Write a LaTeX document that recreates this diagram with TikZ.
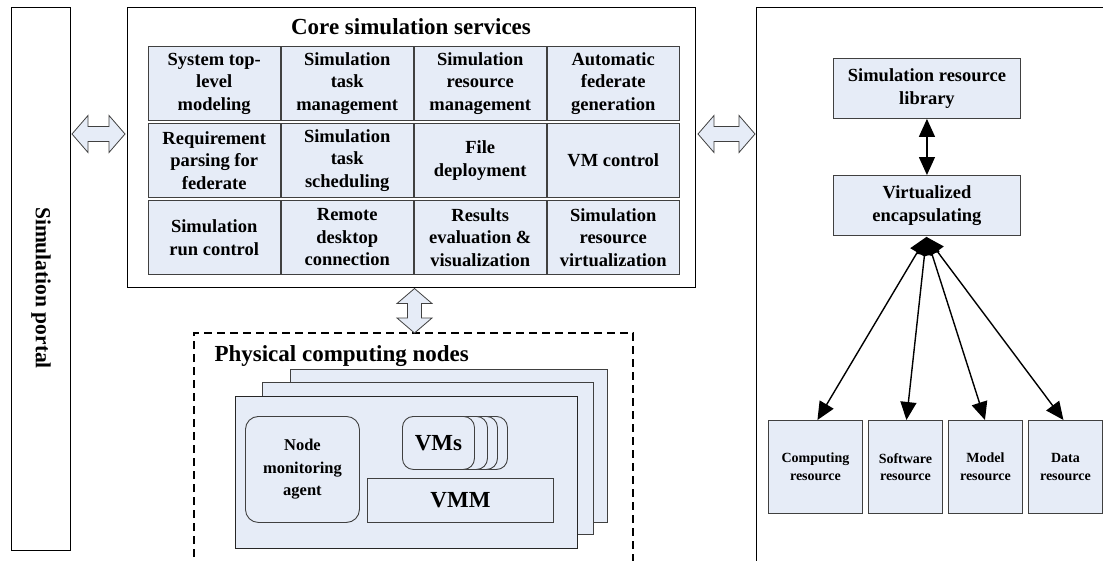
\documentclass[tikz,border=0pt]{standalone}
\usepackage{fontspec}
\setmainfont{Liberation Serif}
\usetikzlibrary{arrows.meta,calc}
\definecolor{boxfill}{RGB}{230,236,247}
\definecolor{boxline}{RGB}{64,64,64}
\newcommand{\cellfont}{\fontsize{18.5}{22.5}\selectfont\bfseries}
\newcommand{\hblockarrow}[2]{%
  \draw[barrow] (#1) -- ++(16,-18.5) -- ++(0,11) -- ($(#2)+(-16,-7.5)$) -- ++(0,-11) -- (#2)
    -- ++(-16,18.5) -- ++(0,-11) -- ($(#1)+(16,7.5)$) -- ++(0,11) -- cycle;}
\newcommand{\vblockarrow}[2]{%
  \draw[barrow] (#1) -- ++(-17.5,15) -- ++(10.5,0) -- ($(#2)+(-7,-15)$) -- ++(-10.5,0) -- (#2)
    -- ++(17.5,-15) -- ++(-10.5,0) -- ($(#1)+(7,15)$) -- ++(10.5,0) -- cycle;}
\begin{document}
\begin{tikzpicture}[x=1pt,y=-1pt,
  cell/.style={draw=boxline, line width=0.9pt, fill=boxfill, minimum width=131.5pt, minimum height=74pt,
    anchor=north west, align=center, inner sep=0pt, font=\cellfont},
  resbox/.style={draw=boxline, line width=0.9pt, fill=boxfill, anchor=north west, align=center, inner sep=0pt},
  frame/.style={draw=black, line width=1.3pt, anchor=north west, inner sep=0pt},
  barrow/.style={draw=boxline, line width=0.8pt, fill=boxfill, line join=miter},
  pbox/.style={draw=boxline, line width=0.9pt, fill=boxfill, anchor=north west, inner sep=0pt},
  rbox/.style={draw=boxline, line width=0.9pt, fill=boxfill, rounded corners=13pt, anchor=north west, inner sep=0pt, align=center},
  link/.style={line width=1.4pt, {Triangle[length=18pt,width=16pt]}-{Triangle[length=18pt,width=16pt]}},
  dashframe/.style={line width=1.2pt, dash pattern=on 8pt off 5pt}
]
\useasboundingbox (0,0) rectangle (1103,560);
\clip (0,0) rectangle (1103,560);
\fill[white] (0,0) rectangle (1103,560);

% Simulation portal
\node[frame, minimum width=59pt, minimum height=543pt] (portal) at (11,7) {};
\node[rotate=-90, font=\fontsize{21.5}{24}\selectfont\bfseries] (portaltxt) at (41,288) {Simulation portal};

% Core simulation services
\node[frame, minimum width=568pt, minimum height=280pt] (core) at (127,7) {};
\node[font=\fontsize{23}{26}\selectfont\bfseries] (coretitle) at (411,27) {Core simulation services};

\node[cell] (c11) at (148,46) {System top-\\level\\modeling};
\node[cell] (c12) at (281,46) {Simulation\\task\\management};
\node[cell] (c13) at (414,46) {Simulation\\resource\\management};
\node[cell] (c14) at (547,46) {Automatic\\federate\\generation};
\node[cell] (c21) at (148,123) {Requirement\\parsing for\\federate};
\node[cell] (c22) at (281,123) {Simulation\\task\\scheduling};
\node[cell] (c23) at (414,123) {File\\deployment};
\node[cell] (c24) at (547,123) {VM control};
\node[cell] (c31) at (148,200) {Simulation\\run control};
\node[cell] (c32) at (281,200) {Remote\\desktop\\connection};
\node[cell] (c33) at (414,200) {Results\\evaluation \&\\visualization};
\node[cell] (c34) at (547,200) {Simulation\\resource\\virtualization};

% Right container
\node[frame, minimum width=360pt, minimum height=570pt] (rframe) at (756,7) {};
\node[resbox, minimum width=187pt, minimum height=60pt, font=\cellfont] (lib) at (833,58) {Simulation resource\\library};
\node[resbox, minimum width=187pt, minimum height=60pt, font=\cellfont] (virt) at (833,175) {Virtualized\\encapsulating};
\node[resbox, minimum width=94pt, minimum height=93pt, font=\fontsize{14}{17.5}\selectfont\bfseries] (comp) at (768,420) {Computing\\resource};
\node[resbox, minimum width=74pt, minimum height=93pt, font=\fontsize{14}{17.5}\selectfont\bfseries] (soft) at (868,420) {Software\\resource};
\node[resbox, minimum width=74pt, minimum height=93pt, font=\fontsize{14}{17.5}\selectfont\bfseries] (model) at (948,420) {Model\\resource};
\node[resbox, minimum width=74pt, minimum height=93pt, font=\fontsize{14}{17.5}\selectfont\bfseries] (data) at (1028,420) {Data\\resource};

\draw[link] (lib.south) -- (virt.north);
\coordinate (hub) at ($(virt.south)+(-0.5,1)$);
\draw[link] (hub) -- ($(comp.north)+(2,0)$);
\draw[link] (hub) -- ($(soft.north)+(1,0)$);
\draw[link] (hub) -- ($(model.north)+(-0.5,0)$);
\draw[link] (hub) -- ($(data.north)+(-2,0)$);

% Physical computing nodes
\coordinate (pd1) at (194,570);
\coordinate (pd2) at (194,333);
\coordinate (pd3) at (633,333);
\coordinate (pd4) at (633,570);
\draw[dashframe] (pd1) -- (pd2) -- (pd3) -- (pd4);
\node[font=\fontsize{23}{26}\selectfont\bfseries, anchor=west] (phys) at (211,356) {Physical computing nodes};

\node[pbox, minimum width=317pt, minimum height=153pt] (pn3) at (290,369) {};
\node[pbox, minimum width=331pt, minimum height=152pt] (pn2) at (262,382) {};
\node[pbox, minimum width=342pt, minimum height=152pt, draw=black!85] (pn1) at (235,396) {};

\node[rbox, minimum width=114pt, minimum height=106pt, font=\fontsize{16.5}{22.5}\selectfont\bfseries] (agent) at (245,416) {Node\\monitoring\\agent};
\node[rbox, minimum width=73pt, minimum height=53pt, rounded corners=11pt] (vm4) at (434,416) {};
\node[rbox, minimum width=73pt, minimum height=53pt, rounded corners=11pt] (vm3) at (424,416) {};
\node[rbox, minimum width=73pt, minimum height=53pt, rounded corners=11pt] (vm2) at (414,416) {};
\node[rbox, minimum width=72pt, minimum height=53pt, rounded corners=11pt, font=\fontsize{23}{25}\selectfont\bfseries] (vm1) at (402,416) {VMs};
\node[pbox, minimum width=186pt, minimum height=44pt, font=\fontsize{23}{25}\selectfont\bfseries] (vmm) at (367,478) {VMM};

% Block arrows
\coordinate (la1) at (72,134);
\coordinate (la2) at (125,134);
\hblockarrow{la1}{la2}
\coordinate (ra1) at (698,134);
\coordinate (ra2) at (755,134);
\hblockarrow{ra1}{ra2}
\coordinate (va1) at (414.5,288.5);
\coordinate (va2) at (414.5,333);
\vblockarrow{va1}{va2}
\end{tikzpicture}
\end{document}
